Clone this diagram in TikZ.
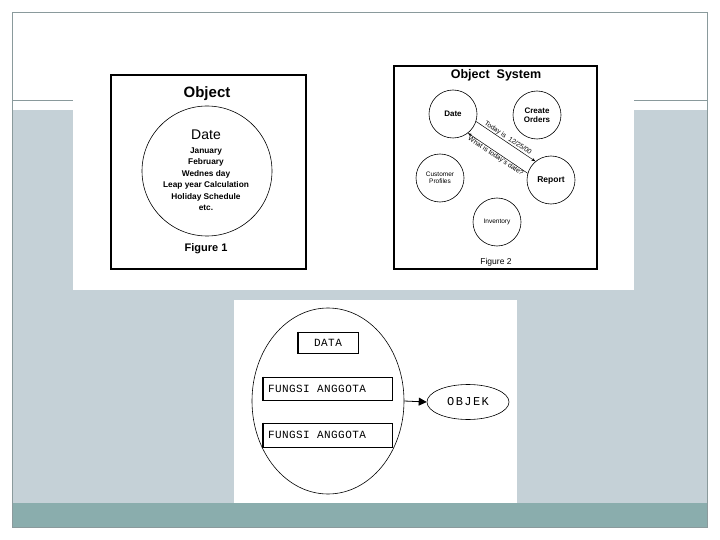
\documentclass[tikz,border=0pt]{standalone}
\usepackage{fontspec}
\setmainfont{Liberation Sans}
\newfontfamily\monof[LetterSpace=4]{Liberation Mono}
\newfontfamily\monow[LetterSpace=12]{Liberation Mono}
\usetikzlibrary{arrows.meta,shapes.geometric}
\definecolor{bandgray}{HTML}{C5D1D7}
\definecolor{bandteal}{HTML}{8AADAD}
\definecolor{framegray}{HTML}{8A9A9C}
\tikzset{
  fs/.style={font=\fontsize{#1}{#1}\selectfont},
  bigbox/.style={draw, line width=2.4pt},
  smallcirc/.style={circle, draw, line width=0.6pt, minimum size=48pt, inner sep=0pt, align=center},
  fbox/.style={draw, line width=1pt, rectangle, inner sep=0pt, font=\monof\fontsize{11}{11}\selectfont},
  msg/.style={-{Stealth[length=4pt,width=3pt]}, line width=0.5pt},
}
\begin{document}
\begin{tikzpicture}[x=1pt,y=-1pt]
\useasboundingbox (0,0) rectangle (720,540);
% slide background
\fill[white] (0,0) rectangle (720,540);
\fill[bandgray] (12,110) rectangle (707,503);
\fill[bandteal] (12,503) rectangle (707,527);
\draw[framegray, line width=0.8pt] (12,100) -- (707,100);
% pictures
\fill[white] (73,50) rectangle (634,290);
\fill[white] (234,300) rectangle (517,503);
\draw[framegray, line width=0.8pt] (12,12) rectangle (707,527);

% ---------- Figure 1 ----------
\draw[bigbox] (111,75) rectangle (306,269);
\node[font=\bfseries\fontsize{15}{15}\selectfont] (obj1) at (207,94) {Object};
\node[circle, draw, line width=0.6pt, minimum size=130pt, inner sep=0pt] (c1) at (207,171) {};
\node[fs=14] (date1) at (206,135) {Date};
\node[font=\bfseries\fontsize{8.3}{11.5}\selectfont, align=center, anchor=north] (list1) at (206,144)
  {January\\February\\Wednes day\\Leap year Calculation\\Holiday Schedule\\etc.};
\node[font=\bfseries\fontsize{11}{11}\selectfont] (fig1) at (206,249) {Figure 1};

% ---------- Figure 2 ----------
\draw[bigbox, line width=2pt] (394,66) rectangle (597,269);
\node[font=\bfseries\fontsize{12.5}{12.5}\selectfont] (os) at (496,75.5) {Object\ \ System};
\node[smallcirc, font=\bfseries\fontsize{8}{8}\selectfont] (d) at (453,114) {Date};
\node[smallcirc, font=\bfseries\fontsize{8}{9.5}\selectfont] (co) at (537,115) {Create\\Orders};
\node[smallcirc, fs=6.5] (cp) at (440,178) {Customer\\Profiles};
\node[smallcirc, font=\bfseries\fontsize{8.5}{8.5}\selectfont] (r) at (551,180) {Report};
\node[smallcirc, fs=6.5] (inv) at (497,222) {Inventory};
\node[fs=8.5] (fig2) at (496,262) {Figure 2};
\draw[msg] (d.-18) -- node[sloped, above, inner sep=0.5pt, fs=6.8] (t1) {Today is\ \ 12/25/00} (r.130);
\draw[msg] (r.164) -- node[sloped, below, inner sep=0.5pt, fs=6.8] (t2) {What is today's date?} (d.-52);

% ---------- Figure 3 ----------
\node[ellipse, draw, line width=0.6pt, minimum width=152pt, minimum height=186pt, inner sep=0pt] (big) at (328,401) {};
\node[fbox, minimum width=60pt, minimum height=21pt] (data) at (328,342.5) {DATA};
\draw[line width=2pt] (data.north west) -- (data.south west);
\node[fbox, minimum width=129pt, minimum height=23pt, text width=119pt, align=left] (f1) at (327.5,388.5) {FUNGSI\ \ ANGGOTA};
\draw[line width=2pt] (f1.north west) -- (f1.south west);
\node[fbox, minimum width=129pt, minimum height=24pt, text width=119pt, align=left] (f2) at (327.5,435) {FUNGSI\ \ ANGGOTA};
\draw[line width=2pt] (f2.north west) -- (f2.south west);
\node[ellipse, draw, line width=0.6pt, minimum width=82pt, minimum height=35pt, inner sep=0pt, font=\monow\fontsize{12}{12}\selectfont] (objek) at (468,402) {OBJEK};
\draw[-{Triangle[length=8pt,width=8pt]}, line width=0.8pt] (big.east) -- (objek.west);
\end{tikzpicture}
\end{document}
